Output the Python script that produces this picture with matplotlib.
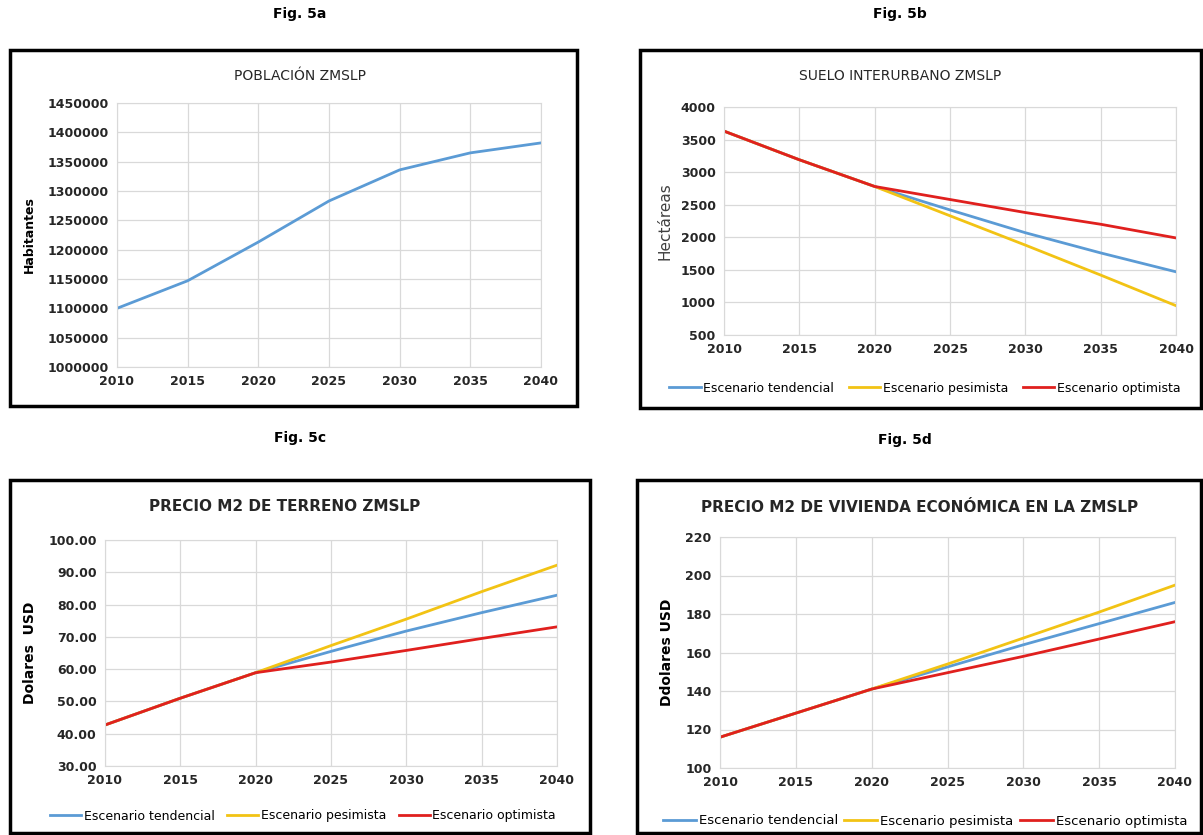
import matplotlib
matplotlib.use('Agg')
import matplotlib.pyplot as plt
from matplotlib.patches import Rectangle

plt.rcParams['font.family'] = ['Liberation Sans Narrow', 'DejaVu Sans']

W, H = 1203, 835

years = [2010, 2015, 2020, 2025, 2030, 2035, 2040]

# Fig 5a
poblacion = [1100000, 1147000, 1213000, 1283000, 1336000, 1365000, 1382000]

# Fig 5b
suelo_tend = [3630, 3190, 2780, 2420, 2070, 1760, 1470]
suelo_pes = [3630, 3190, 2780, 2330, 1880, 1420, 950]
suelo_opt = [3630, 3190, 2780, 2580, 2380, 2200, 1990]

# Fig 5c
terreno_tend = [42.7, 51.0, 58.9, 65.5, 71.8, 77.5, 82.9]
terreno_pes = [42.7, 51.0, 58.9, 67.3, 75.5, 84.0, 92.2]
terreno_opt = [42.7, 51.0, 58.9, 62.2, 65.8, 69.5, 73.1]

# Fig 5d
vivienda_tend = [116, 128.5, 141, 152.5, 164, 175, 186]
vivienda_pes = [116, 128.5, 141, 154, 167.5, 181, 195]
vivienda_opt = [116, 128.5, 141, 149.5, 158, 167, 176]

labels = ['Escenario tendencial', 'Escenario pesimista', 'Escenario optimista']
colors = ['#5B9BD5', '#F2C314', '#E0201E']


def px(x0, y0, x1, y1):
    return [x0 / W, 1 - y1 / H, (x1 - x0) / W, (y1 - y0) / H]


fig = plt.figure(figsize=(W / 100, H / 100), dpi=100)

# panel frames
for x0, y0, x1, y1 in [(10, 50, 577, 406), (640, 50, 1201, 408),
                       (10, 480, 590, 833), (637, 480, 1201, 833)]:
    fig.patches.append(Rectangle((x0 / W, 1 - y1 / H), (x1 - x0) / W, (y1 - y0) / H,
                                 transform=fig.transFigure, fill=False,
                                 edgecolor='black', linewidth=2.5))

for txt, x, y in [('Fig. 5a', 300, 14), ('Fig. 5b', 900, 14),
                  ('Fig. 5c', 300, 438), ('Fig. 5d', 905, 440)]:
    fig.text(x / W, 1 - y / H, txt, ha='center', va='center', fontsize=10,
             fontweight='bold')


def style(ax, ylim, yticks, fmt):
    ax.set_xlim(2010, 2040)
    ax.set_ylim(*ylim)
    ax.set_xticks(years)
    ax.set_yticks(yticks)
    ax.set_yticklabels([fmt.format(v) for v in yticks])
    ax.grid(True, color='#D9D9D9', linewidth=0.9)
    ax.set_axisbelow(True)
    for s in ax.spines.values():
        s.set_color('#D9D9D9')
    ax.tick_params(length=0, labelsize=9, pad=6)
    for t in ax.get_xticklabels() + ax.get_yticklabels():
        t.set_fontweight('bold')
        t.set_color('#262626')


# 5a
ax = fig.add_axes(px(117, 103, 541, 367))
ax.plot(years, poblacion, color=colors[0], linewidth=2)
style(ax, (1000000, 1450000), list(range(1000000, 1450001, 50000)), '{:d}')
ax.set_ylabel('Habitantes', fontsize=9, fontweight='bold', labelpad=8)
fig.text(300 / W, 1 - 76 / H, 'POBLACIÓN ZMSLP', ha='center', va='center',
         fontsize=10, color='#262626')

# 5b
ax = fig.add_axes(px(724, 107, 1176, 335))
for s, c, l in zip([suelo_tend, suelo_pes, suelo_opt], colors, labels):
    ax.plot(years, s, color=c, linewidth=2, label=l)
style(ax, (500, 4000), list(range(500, 4001, 500)), '{:d}')
ax.set_ylabel('Hectáreas', fontsize=11, labelpad=6, color='#404040')
fig.text(900 / W, 1 - 76 / H, 'SUELO INTERURBANO ZMSLP', ha='center', va='center',
         fontsize=10, color='#262626')
ax.legend(loc='center', bbox_to_anchor=(925 / W, 1 - 388 / H),
          bbox_transform=fig.transFigure, ncol=3, frameon=False, fontsize=9,
          handlelength=2.5, columnspacing=1.2, handletextpad=0.2)

# 5c
ax = fig.add_axes(px(105, 540, 557, 766))
for s, c, l in zip([terreno_tend, terreno_pes, terreno_opt], colors, labels):
    ax.plot(years, s, color=c, linewidth=2, label=l)
style(ax, (30, 100), list(range(30, 101, 10)), '{:.2f}')
ax.set_ylabel('Dolares  USD', fontsize=10, fontweight='bold', labelpad=8)
fig.text(285 / W, 1 - 507 / H, 'PRECIO M2 DE TERRENO ZMSLP', ha='center',
         va='center', fontsize=11, fontweight='bold', color='#262626')
ax.legend(loc='center', bbox_to_anchor=(303 / W, 1 - 816 / H),
          bbox_transform=fig.transFigure, ncol=3, frameon=False, fontsize=9,
          handlelength=2.5, columnspacing=1.0, handletextpad=0.2)

# 5d
ax = fig.add_axes(px(720, 537, 1175, 768))
for s, c, l in zip([vivienda_tend, vivienda_pes, vivienda_opt], colors, labels):
    ax.plot(years, s, color=c, linewidth=2, label=l)
style(ax, (100, 220), list(range(100, 221, 20)), '{:d}')
ax.set_ylabel('Ddolares USD', fontsize=10, fontweight='bold', labelpad=8)
fig.text(920 / W, 1 - 508 / H, 'PRECIO M2 DE VIVIENDA ECONÓMICA EN LA ZMSLP',
         ha='center', va='center', fontsize=11, fontweight='bold', color='#262626')
ax.legend(loc='center', bbox_to_anchor=(925 / W, 1 - 821 / H),
          bbox_transform=fig.transFigure, ncol=3, frameon=False, fontsize=9.5,
          handlelength=2.5, columnspacing=0.5, handletextpad=0.2)

fig.savefig('out.png', dpi=100)
